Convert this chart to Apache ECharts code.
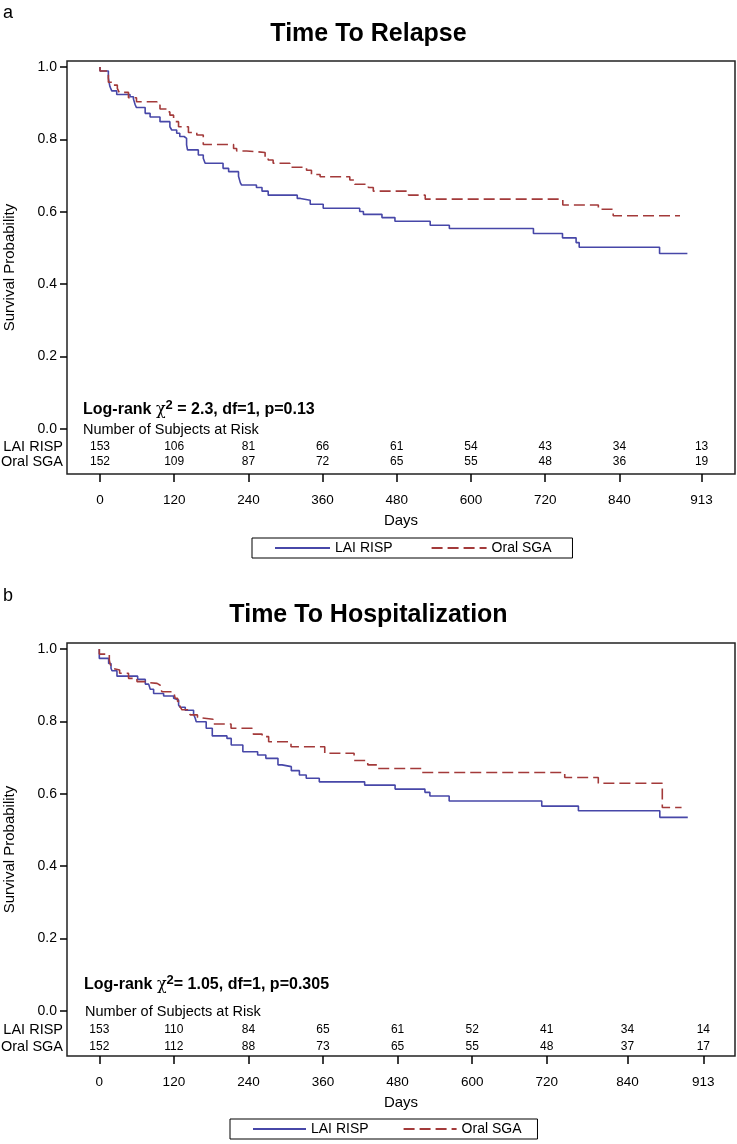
<!DOCTYPE html>
<html>
<head>
<meta charset="utf-8">
<script src="https://cdn.jsdelivr.net/npm/echarts@6/dist/echarts.min.js"></script>
<style>html,body{margin:0;padding:0;background:#fff}#c{width:737px;height:1144px}</style>
</head>
<body>
<div id="c"></div>
<script>
// ---------- data ----------
const tickLabels = ['0','120','240','360','480','600','720','840','913'];
const tickPosA = [0,120,240,360,480,600,720,840,973];
const tickPosB = [0,120,240,360,480,600,720,850,972];
const yTicks = [0,0.2,0.4,0.6,0.8,1.0];

const riskA_LAI  = [153,106,81,66,61,54,43,34,13];
const riskA_Oral = [152,109,87,72,65,55,48,36,19];
const riskB_LAI  = [153,110,84,65,61,52,41,34,14];
const riskB_Oral = [152,112,88,73,65,55,48,37,17];

const relapseLAI = [[0,1.0],[0,0.989],[13.5,0.97],[15,0.955],[16,0.946],[19,0.934],[27,0.924],[48.5,0.918],[54,0.912],[57,0.895],[59,0.888],[73,0.872],[81,0.862],[97,0.849],[113,0.835],[116,0.826],[124,0.817],[129,0.808],[136,0.803],[140,0.785],[141.5,0.771],[159,0.757],[167,0.748],[170,0.734],[199,0.720],[208,0.711],[224,0.698],[227,0.68],[229,0.674],[253,0.667],[262,0.657],[272,0.646],[319,0.637],[324,0.632],[340,0.621],[361,0.610],[420,0.601],[426,0.593],[456,0.584],[477,0.574],[534,0.563],[565,0.554],[701,0.540],[748,0.528],[770,0.515],[775,0.502],[905,0.485],[950,0.485]];
const relapseOral = [[0,1.0],[0,0.989],[13.5,0.958],[21.6,0.950],[28,0.941],[31,0.930],[46,0.915],[59,0.904],[92,0.895],[97,0.884],[108,0.876],[113,0.867],[119,0.856],[121,0.849],[127,0.835],[143,0.819],[156.5,0.812],[167,0.786],[216,0.775],[221,0.768],[237,0.764],[267,0.752],[272,0.743],[280,0.734],[307,0.723],[334,0.715],[342,0.703],[356,0.697],[404,0.688],[412,0.676],[434,0.667],[442,0.657],[499,0.646],[526,0.635],[748.5,0.619],[806,0.607],[830,0.589],[938,0.589]];
const hospLAI = [[0,1.0],[0,0.974],[15,0.960],[18.8,0.947],[20.4,0.940],[28.4,0.925],[61.7,0.916],[74,0.903],[79.4,0.898],[82,0.889],[87.4,0.877],[103.5,0.870],[119.6,0.864],[122,0.859],[127.6,0.845],[130,0.839],[138.3,0.831],[151.7,0.820],[154.5,0.808],[156,0.799],[172,0.781],[181.8,0.760],[205.4,0.753],[212.3,0.735],[231,0.716],[254.8,0.707],[268,0.698],[287.5,0.680],[294,0.675],[309,0.664],[322,0.652],[333,0.643],[354,0.633],[427,0.624],[476,0.613],[524,0.604],[532,0.594],[563,0.580],[712,0.566],[771,0.553],[902,0.535],[947,0.535]];
const hospOral = [[0,1.0],[0,0.986],[16.1,0.970],[17.2,0.960],[20,0.947],[23,0.942],[32.7,0.933],[47,0.919],[60.6,0.910],[74,0.907],[82,0.905],[93,0.900],[98,0.891],[100.8,0.882],[119.6,0.878],[122,0.864],[126,0.855],[130,0.841],[133,0.832],[143.8,0.824],[146.4,0.818],[158,0.811],[160,0.806],[183,0.793],[212,0.781],[246,0.772],[248,0.765],[262,0.758],[272.5,0.744],[308.5,0.730],[362.8,0.712],[410,0.692],[432,0.680],[447,0.670],[519,0.659],[749,0.645],[803,0.629],[906,0.562],[937,0.562]];

// ---------- styling ----------
const FF = "'Liberation Sans', Arial, Helvetica, sans-serif";
const BLUE = '#4747A8';
const RED = '#A33A3A';

function xAxisFor(gi, pos, min, max){
  return {
    type:'value', gridIndex:gi, min:min, max:max, position:'bottom',
    name:'Days', nameLocation:'middle', nameGap:39,
    nameTextStyle:{fontFamily:FF, fontSize:15, color:'#000'},
    axisLine:{show:false, onZero:false},
    splitLine:{show:false},
    axisTick:{show:true, length:8, customValues:pos, lineStyle:{color:'#000', width:1.5}},
    axisLabel:{show:true, customValues:pos, margin:19, fontFamily:FF, fontSize:13.5, color:'#000',
      formatter:(v)=>{const i = pos.indexOf(v); return i>=0 ? tickLabels[i] : '';}}
  };
}
function yAxisFor(gi){
  return {
    type:'value', gridIndex:gi, min:-0.1243, max:1.0166, position:'left',
    name:'Survival Probability', nameLocation:'middle', nameGap:50, nameRotate:90,
    nameTextStyle:{fontFamily:FF, fontSize:15, color:'#000'},
    axisLine:{show:false, onZero:false},
    splitLine:{show:false},
    axisTick:{show:true, length:7, customValues:yTicks, lineStyle:{color:'#000', width:1.5}},
    axisLabel:{show:true, customValues:yTicks, margin:10, fontFamily:FF, fontSize:14, color:'#000',
      formatter:(v)=>v.toFixed(1)}
  };
}
function kmSeries(name, data, gi, color, dashed){
  return {
    name:name, type:'line', step:'end', xAxisIndex:gi, yAxisIndex:gi,
    data:data, symbol:'none', animation:false,
    lineStyle:{color:color, width:1.6, type: dashed ? [11,5] : 'solid'},
    itemStyle:{color:color}
  };
}
function riskSeries(vals, pos, rowY, gi){
  return {
    type:'custom', xAxisIndex:gi, yAxisIndex:gi, silent:true, animation:false,
    data: vals.map((v,i)=>[pos[i], rowY, v]),
    renderItem:(params, api)=>{
      const p = api.coord([api.value(0), api.value(1)]);
      return {type:'text', x:p[0], y:p[1], style:{text:String(api.value(2)), align:'center', verticalAlign:'middle',
        fontFamily:FF, fontSize:12, fill:'#000'}};
    }
  };
}
function txt(x, y, text, size, bold, align){
  return {type:'text', x:x, y:y, silent:true, style:{text:text, fontFamily:FF, fontSize:size,
    fontWeight: bold ? 'bold' : 'normal', fill:'#000', align: align || 'left', verticalAlign:'middle'}};
}
function logRank(x, y, rest){
  return {type:'text', x:x, y:y, silent:true, style:{
    text:'{b|Log-rank }{c|χ}{s|2}{b|' + rest + '}',
    align:'left', verticalAlign:'middle', fill:'#000',
    rich:{
      b:{fontFamily:FF, fontSize:16, fontWeight:'bold', fill:'#000'},
      c:{fontFamily:"'DejaVu Serif', serif", fontSize:16, fill:'#000'},
      s:{fontFamily:FF, fontSize:13, fontWeight:'bold', fill:'#000', padding:[0,0,10,0]}
    }
  }};
}

const legendBase = {
  data:['LAI RISP','Oral SGA'], orient:'horizontal', selectedMode:false,
  borderColor:'#000', borderWidth:1, itemHeight:10,
  itemStyle:{opacity:0},
  textStyle:{fontFamily:FF, fontSize:14, color:'#000'}
};

const option = {
  animation:false,
  backgroundColor:'#fff',
  title:[
    {text:'Time To Relapse', left:'center', top:17, textStyle:{fontFamily:FF, fontSize:25, fontWeight:'bold', color:'#000'}},
    {text:'Time To Hospitalization', left:'center', top:598, textStyle:{fontFamily:FF, fontSize:25, fontWeight:'bold', color:'#000'}}
  ],
  grid:[
    {left:67, right:2, top:61, height:413, show:true, borderColor:'#222', borderWidth:1.5, backgroundColor:'transparent', outerBoundsMode:'none', containLabel:false},
    {left:67, right:2, top:643, height:413, show:true, borderColor:'#222', borderWidth:1.5, backgroundColor:'transparent', outerBoundsMode:'none', containLabel:false}
  ],
  xAxis:[ xAxisFor(0, tickPosA, -53.4, 1027), xAxisFor(1, tickPosB, -52, 1023) ],
  yAxis:[ yAxisFor(0), yAxisFor(1) ],
  legend:[
    Object.assign({}, legendBase, {left:252, top:538, itemWidth:55, itemGap:38, padding:[3,21,3,22]}),
    Object.assign({}, legendBase, {left:230, top:1119, itemWidth:53, itemGap:34, padding:[3,16,3,22]})
  ],
  series:[
    kmSeries('LAI RISP', relapseLAI, 0, BLUE, false),
    kmSeries('Oral SGA', relapseOral, 0, RED, true),
    kmSeries('LAI RISP', hospLAI, 1, BLUE, false),
    kmSeries('Oral SGA', hospOral, 1, RED, true),
    riskSeries(riskA_LAI, tickPosA, -0.0497, 0),
    riskSeries(riskA_Oral, tickPosA, -0.0912, 0),
    riskSeries(riskB_LAI, tickPosB, -0.0525, 1),
    riskSeries(riskB_Oral, tickPosB, -0.0994, 1)
  ],
  graphic:[
    txt(3, 13, 'a', 18, false),
    txt(3, 596, 'b', 18, false),
    logRank(83, 410, ' = 2.3, df=1, p=0.13'),
    txt(83, 430, 'Number of Subjects at Risk', 14.5, false),
    txt(63, 447, 'LAI RISP', 14.5, false, 'right'),
    txt(63, 462, 'Oral SGA', 14.5, false, 'right'),
    logRank(84, 985, '= 1.05, df=1, p=0.305'),
    txt(85, 1012, 'Number of Subjects at Risk', 14.5, false),
    txt(63, 1030, 'LAI RISP', 14.5, false, 'right'),
    txt(63, 1047, 'Oral SGA', 14.5, false, 'right')
  ]
};

const chart = echarts.init(document.getElementById('c'), null, {renderer:'canvas'});
chart.setOption(option);
</script>
</body>
</html>
